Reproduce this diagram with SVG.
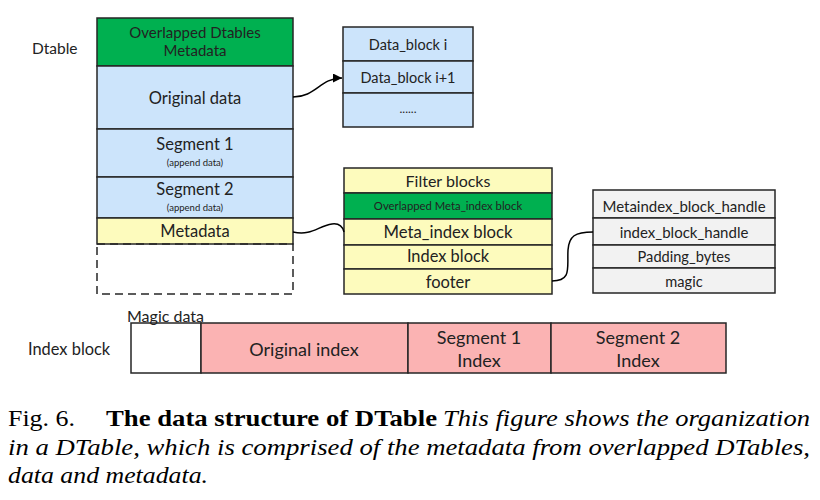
<svg xmlns="http://www.w3.org/2000/svg" width="820" height="500" viewBox="0 0 820 500">
<defs>
<marker id="arr" viewBox="0 0 10 10" refX="10" refY="5" markerWidth="9" markerHeight="9" markerUnits="userSpaceOnUse" orient="auto">
<path d="M0,0 L10,5 L0,10 z" fill="#000"/>
</marker>
<style>
.b{stroke:#262626;stroke-width:1.5}
.g{fill:#00b050}
.bl{fill:#cce4fb}
.y{fill:#fdfbbd}
.p{fill:#fbb3b3}
.gr{fill:#f2f2f2}
.w{fill:#fff}
text{font-family:Lato,"Liberation Sans",sans-serif;fill:#222;text-anchor:middle}
.l{text-anchor:start}
.cap{font-family:"Liberation Serif","Times New Roman",serif;fill:#000;text-anchor:start;font-size:24px}
.con{fill:none;stroke:#000;stroke-width:1.5}
</style>
</defs>
<rect width="820" height="500" fill="#fff"/>

<g id="dtable">
<text class="l" x="32" y="54" font-size="15.5">Dtable</text>
<rect class="b g" x="97" y="18" width="196" height="48"/>
<text x="195" y="38" font-size="15">Overlapped Dtables</text>
<text x="195" y="56" font-size="15">Metadata</text>
<rect class="b bl" x="97" y="66" width="196" height="63"/>
<text x="195" y="104" font-size="16.5">Original data</text>
<rect class="b bl" x="97" y="129" width="196" height="48"/>
<text x="195" y="150" font-size="16.5">Segment 1</text>
<text x="195" y="166" font-size="9.5">(append data)</text>
<rect class="b bl" x="97" y="177" width="196" height="41"/>
<text x="195" y="195" font-size="16.5">Segment 2</text>
<text x="195" y="211" font-size="9.5">(append data)</text>
<rect class="b y" x="97" y="218" width="196" height="26"/>
<text x="195" y="237" font-size="16.5">Metadata</text>
<rect x="97" y="244" width="196" height="50" fill="none" stroke="#262626" stroke-width="1.5" stroke-dasharray="8,5"/>
</g>

<g id="datablocks">
<rect class="b bl" x="343" y="27" width="130" height="34"/>
<text x="408" y="50" font-size="14.5">Data_block i</text>
<rect class="b bl" x="343" y="61" width="130" height="32"/>
<text x="408" y="83" font-size="14.5">Data_block i+1</text>
<rect class="b bl" x="343" y="93" width="130" height="34"/>
<text x="408" y="113" font-size="12">......</text>
</g>

<g id="metablocks">
<rect class="b y" x="344" y="168" width="208" height="25"/>
<text x="448" y="187" font-size="16">Filter blocks</text>
<rect class="b g" x="344" y="193" width="208" height="26"/>
<text x="448" y="210" font-size="11.3">Overlapped  Meta_index block</text>
<rect class="b y" x="344" y="219" width="208" height="26"/>
<text x="448" y="238" font-size="16.7">Meta_index block</text>
<rect class="b y" x="344" y="245" width="208" height="24"/>
<text x="448" y="262" font-size="16.4">Index block</text>
<rect class="b y" x="344" y="269" width="208" height="25"/>
<text x="448" y="288" font-size="16.5">footer</text>
</g>

<g id="footer">
<rect class="b gr" x="593" y="190" width="182" height="28"/>
<text x="684" y="212" font-size="15">Metaindex_block_handle</text>
<rect class="b gr" x="593" y="218" width="182" height="27"/>
<text x="684" y="238" font-size="15">index_block_handle</text>
<rect class="b gr" x="593" y="245" width="182" height="23"/>
<text x="684" y="262" font-size="14.6">Padding_bytes</text>
<rect class="b gr" x="593" y="268" width="182" height="25"/>
<text x="684" y="287" font-size="14.6">magic</text>
</g>

<g id="indexblock">
<text class="l" x="28" y="355" font-size="16.4">Index block</text>
<rect class="b w" x="131" y="323" width="70" height="50"/>
<rect class="b p" x="201" y="323" width="207" height="50"/>
<text x="304" y="356" font-size="18">Original index</text>
<rect class="b p" x="408" y="323" width="143" height="50"/>
<text x="479" y="344" font-size="18">Segment 1</text>
<text x="479" y="367" font-size="18">Index</text>
<rect class="b p" x="551" y="323" width="175" height="50"/>
<text x="638" y="344" font-size="18">Segment 2</text>
<text x="638" y="367" font-size="18">Index</text>
<text class="l" x="127" y="322" font-size="16">Magic data</text>
</g>

<g id="connectors">
<path class="con" d="M293,97 C316,97 320,78 342,78" marker-end="url(#arr)"/>
<path class="con" d="M293,232 C312,236 318,226 332,224 C340,223 343,228 344,232"/>
<path class="con" d="M552,281 C572,281 567,268 568,250 C569,236 575,232 593,232"/>
</g>

<g id="caption">
<text class="cap" x="8" y="426" textLength="67" lengthAdjust="spacingAndGlyphs">Fig. 6.</text>
<text class="cap" x="106" y="426" font-weight="bold" textLength="331" lengthAdjust="spacingAndGlyphs">The data structure of DTable</text>
<text class="cap" x="443" y="426" font-style="italic" textLength="367" lengthAdjust="spacingAndGlyphs">This figure shows the organization</text>
<text class="cap" x="8" y="455" font-style="italic" textLength="802" lengthAdjust="spacingAndGlyphs">in a DTable, which is comprised of the metadata from overlapped DTables,</text>
<text class="cap" x="8" y="483" font-style="italic" textLength="200" lengthAdjust="spacingAndGlyphs">data and metadata.</text>
</g>
</svg>
